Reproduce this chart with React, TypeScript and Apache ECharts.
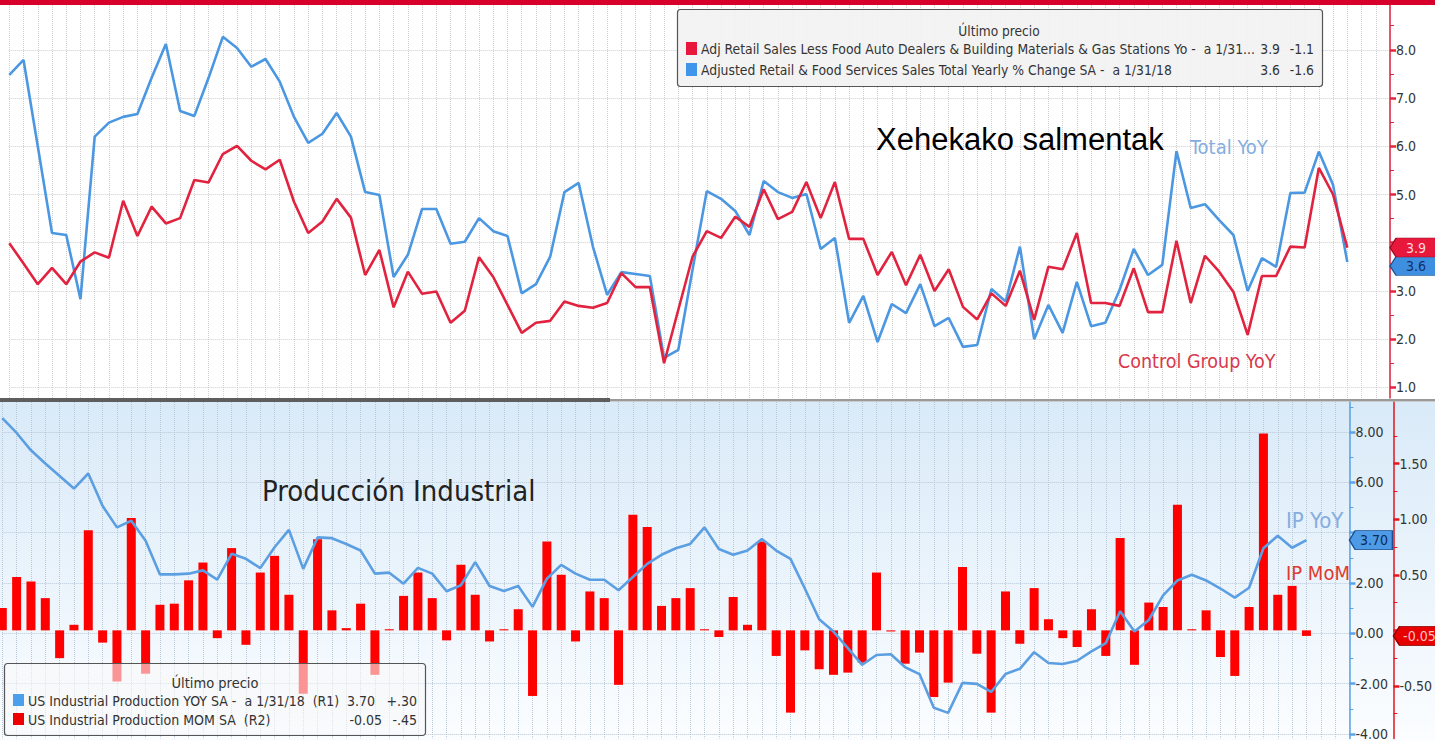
import React, { useEffect, useRef } from 'react';
import * as echarts from 'echarts';

const FONT = "'Liberation Sans Narrow', 'Arial Narrow', 'DejaVu Sans Condensed', sans-serif";
const MONTHS = ['Jan', 'Feb', 'Mar', 'Apr', 'May', 'Jun', 'Jul', 'Aug', 'Sep', 'Oct', 'Nov', 'Dec'];

function monthRange(startYear: number, startMonth: number, count: number): string[] {
  const out: string[] = [];
  for (let k = 0; k < count; k++) {
    const m = startMonth + k;
    out.push(MONTHS[m % 12] + ' ' + (startYear + Math.floor(m / 12)));
  }
  return out;
}

// Retail sales chart: data Mar 2010 – Jan 2018, axis runs to Apr 2018
const retailMonths = monthRange(2010, 2, 98);
// Industrial production chart: data Jun 2010 – Jan 2018, axis runs to Apr 2018
const ipMonths = monthRange(2010, 5, 95);

const NAME_CONTROL = 'Adj Retail Sales Less Food Auto Dealers & Building Materials & Gas Stations Yo';
const NAME_TOTAL = 'Adjusted Retail & Food Services Sales Total Yearly % Change SA';
const NAME_IP_YOY = 'US Industrial Production YOY SA';
const NAME_IP_MOM = 'US Industrial Production MOM SA';

const retailTotalYoY = [
  7.48, 7.79, 6.0, 4.2, 4.16, 2.83, 6.2, 6.49, 6.61, 6.67,
  7.42, 8.12, 6.73, 6.63, 7.42, 8.27, 8.04, 7.65, 7.81, 7.34,
  6.61, 6.07, 6.26, 6.69, 6.2, 5.05, 4.99, 3.29, 3.75, 4.7,
  4.7, 3.98, 4.02, 4.51, 4.24, 4.14, 2.95, 3.14, 3.71, 5.05,
  5.24, 3.92, 2.92, 3.39, 3.35, 3.31, 1.61, 1.78, 3.44, 5.07,
  4.91, 4.66, 4.16, 5.28, 5.05, 4.93, 5.01, 3.87, 4.1, 2.34,
  2.9, 1.94, 2.73, 2.54, 3.14, 2.27, 2.44, 1.84, 1.88, 3.04,
  2.78, 3.92, 2.0, 2.71, 2.13, 3.19, 2.27, 2.34, 3.02, 3.87,
  3.33, 3.54, 5.9, 4.72, 4.8, 4.47, 4.16, 3.0, 3.68, 3.5,
  5.03, 5.04, 5.89, 5.2, 3.6,
];

const retailControlYoY = [
  3.99, 3.57, 3.14, 3.48, 3.14, 3.61, 3.8, 3.69, 4.87, 4.14,
  4.75, 4.4, 4.51, 5.3, 5.25, 5.84, 6.01, 5.7, 5.52, 5.72,
  4.85, 4.2, 4.44, 4.91, 4.52, 3.33, 3.85, 2.66, 3.4, 2.94,
  2.99, 2.34, 2.59, 3.7, 3.29, 2.71, 2.13, 2.34, 2.38, 2.78,
  2.69, 2.65, 2.75, 3.37, 3.08, 3.08, 1.5, 2.61, 3.71, 4.24,
  4.1, 4.54, 4.33, 5.11, 4.49, 4.64, 5.26, 4.51, 5.26, 4.08,
  4.08, 3.33, 3.81, 3.12, 3.75, 3.0, 3.45, 2.67, 2.41, 2.95,
  2.69, 3.42, 2.4, 3.5, 3.45, 4.2, 2.75, 2.75, 2.69, 3.47,
  2.56, 2.56, 4.04, 2.75, 3.73, 3.4, 2.98, 2.09, 3.31, 3.31,
  3.92, 3.9, 5.55, 5.0, 3.9,
];

const ipMoM = [
  0.2, 0.48, 0.44, 0.29, -0.25, 0.05, 0.9, -0.11, -0.46, 1.01,
  -0.39, 0.23, 0.24, 0.45, 0.61, -0.07, 0.74, -0.13, 0.52, 0.67,
  0.32, -0.57, 0.82, 0.18, 0.02, 0.24, -0.4, 0.01, 0.31, 0.52,
  0.29, -0.09, 0.59, 0.32, -0.1, 0.01, 0.19, -0.59, 0.8, 0.5,
  -0.1, 0.35, 0.29, -0.49, 1.04, 0.93, 0.22, 0.29, 0.38, 0.01,
  -0.06, 0.3, 0.05, 0.8, -0.23, -0.74, -0.18, -0.35, -0.4, -0.38,
  -0.29, 0.52, -0.01, -0.3, -0.2, -0.6, -0.47, 0.57, -0.21, -0.74,
  0.35, -0.12, 0.38, 0.1, -0.07, -0.15, 0.19, -0.23, 0.83, -0.31,
  0.25, 0.21, 1.13, 0.01, 0.18, -0.24, -0.41, 0.21, 1.77, 0.32,
  0.4, -0.05,
];

const ipYoY = [
  8.55, 7.96, 7.27, 6.75, 6.25, 5.75, 6.35, 5.06, 4.21, 4.47,
  3.68, 2.34, 2.34, 2.37, 2.5, 2.13, 3.16, 2.96, 2.59, 3.42,
  4.11, 2.56, 3.81, 3.78, 3.55, 3.29, 2.37, 2.41, 1.97, 2.6,
  2.37, 1.67, 1.91, 2.83, 1.88, 1.68, 1.88, 1.05, 2.17, 2.72,
  2.37, 2.13, 2.13, 1.71, 2.24, 2.76, 3.12, 3.38, 3.55, 4.21,
  3.35, 3.12, 3.29, 3.75, 3.29, 2.96, 1.78, 0.56, 0.07, -0.59,
  -1.25, -0.86, -0.83, -1.35, -1.62, -2.96, -3.16, -1.97, -2.01, -2.33,
  -1.62, -1.41, -0.75, -1.18, -1.22, -1.09, -0.72, -0.39, 0.88, 0.07,
  0.53, 1.51, 2.1, 2.33, 2.1, 1.78, 1.42, 1.81, 3.38, 3.88,
  3.4, 3.7,
];

// Tick positions, and the tick labels that stay visible (the others sit under the last-value flags)
const retailTicks = [1, 2, 3, 4, 5, 6, 7, 8];
const retailTickLabels = [1, 2, 3, 5, 6, 7, 8];
const ipYoYTicks = [-4, -2, 0, 2, 4, 6, 8];
const ipYoYTickLabels = [-4, -2, 0, 2, 6, 8];
const ipMoMTicks = [-0.5, 0, 0.5, 1, 1.5];
const ipMoMTickLabels = [-0.5, 0.5, 1, 1.5];

const last = (a: number[]) => a[a.length - 1];
const change = (a: number[]) => a[a.length - 1] - a[a.length - 2];
const fmtSigned = (v: number, d: number) => (v >= 0 ? '' : '-') + Math.abs(v).toFixed(d);
const fmtShort = (v: number) => (v >= 0 ? '+' : '-') + Math.abs(v).toFixed(2).replace(/^0/, '');

const RED_TOP = '#e2233f';
const BLUE_TOP = '#4b97e2';
const BLUE_IP = '#5b9fe2';
const RED_IP = '#ff0000';
const FLAG = 'path://M0,10 L8,0 L60,0 L60,20 L8,20 Z';

function flag(coordX: string, value: number, fill: string, border: string, textColor: string, w: number, dx: number, dy: number, digits: number) {
  return {
    symbol: FLAG,
    symbolSize: [w, 19],
    symbolOffset: [dx + w / 2, dy],
    silent: true,
    itemStyle: { color: fill, borderColor: border, borderWidth: 1 },
    label: {
      show: true,
      position: 'inside',
      offset: [3, 0],
      color: textColor,
      fontFamily: FONT,
      fontSize: 14,
      formatter: (p: any) => Number(p.value).toFixed(digits),
    },
    data: [{ coord: [coordX, value], value }],
  };
}

function txt(x: number, y: number, text: string, fill: string, size: number, align: string = 'left', family: string = FONT) {
  return {
    type: 'text',
    x,
    y,
    z: 100,
    silent: true,
    style: { text, fill, font: `${size}px ${family}`, textAlign: align, textVerticalAlign: 'middle' },
  };
}

export default function App() {
  const ref = useRef<HTMLDivElement>(null);

  useEffect(() => {
    if (!ref.current) return;
    const chart = echarts.init(ref.current, undefined, { renderer: 'svg' });

    const dotted = (color: string) => ({ show: true, lineStyle: { type: 'dotted', color, width: 1 } });
    const isMultiple = (v: number, step: number) => Math.abs(v / step - Math.round(v / step)) < 1e-6;

    const option: any = {
      animation: false,
      backgroundColor: '#ffffff',
      textStyle: { fontFamily: FONT },
      grid: [
        { left: 9.3, top: 5, width: 1380.7, height: 393 },
        { left: 2.3, top: 402, width: 1352.7, height: 339 },
      ],
      xAxis: [
        {
          type: 'category', gridIndex: 0, data: retailMonths, boundaryGap: false,
          axisLine: { show: false }, axisTick: { show: false }, axisLabel: { show: false },
          splitLine: { ...dotted('#cfcfcf'), interval: 0 },
        },
        {
          type: 'category', gridIndex: 1, data: ipMonths, boundaryGap: false,
          axisLine: { show: false }, axisTick: { show: false }, axisLabel: { show: false },
          splitLine: { ...dotted('#b9c8d8'), interval: 0 },
        },
      ],
      yAxis: [
        {
          type: 'value', gridIndex: 0, position: 'right',
          min: 0.78, max: 8.93, minInterval: 1, maxInterval: 1, splitNumber: 8,
          axisLine: { show: true, lineStyle: { color: RED_TOP, width: 1.5 } },
          axisTick: { show: true, length: 6, lineStyle: { color: RED_TOP, width: 2.5 }, customValues: retailTicks },
          minorTick: { show: true, splitNumber: 2, length: 4, lineStyle: { color: RED_TOP, width: 1 } },
          axisLabel: {
            show: true, color: '#333', fontSize: 14, fontFamily: FONT, margin: 6, customValues: retailTickLabels,
            formatter: (v: number) => (isMultiple(v, 1) && retailTickLabels.includes(Math.round(v)) ? v.toFixed(1) : ''),
          },
          splitLine: dotted('#cfcfcf'),
        },
        {
          type: 'value', gridIndex: 1, position: 'right',
          min: -4.18, max: 9.19, minInterval: 2, maxInterval: 2, splitNumber: 7,
          axisLine: { show: true, lineStyle: { color: '#5aa3e6', width: 1.5 } },
          axisTick: { show: true, length: 6, lineStyle: { color: '#5aa3e6', width: 2.5 }, customValues: ipYoYTicks },
          minorTick: { show: true, splitNumber: 2, length: 4, lineStyle: { color: '#5aa3e6', width: 1 } },
          axisLabel: {
            show: true, color: '#333', fontSize: 14, fontFamily: FONT, margin: 6, customValues: ipYoYTickLabels,
            formatter: (v: number) => (isMultiple(v, 2) && ipYoYTickLabels.includes(Math.round(v)) ? v.toFixed(2) : ''),
          },
          splitLine: dotted('#b9c8d8'),
        },
        {
          type: 'value', gridIndex: 1, position: 'right', offset: 44,
          min: -0.973, max: 2.054, minInterval: 0.5, maxInterval: 0.5, splitNumber: 6,
          axisLine: { show: true, lineStyle: { color: '#e3141e', width: 1.5 } },
          axisTick: { show: true, length: 6, lineStyle: { color: '#e3141e', width: 2.5 }, customValues: ipMoMTicks },
          minorTick: { show: true, splitNumber: 2, length: 4, lineStyle: { color: '#e3141e', width: 1 } },
          axisLabel: {
            show: true, color: '#333', fontSize: 14, fontFamily: FONT, margin: 6, customValues: ipMoMTickLabels,
            formatter: (v: number) =>
              isMultiple(v, 0.5) && ipMoMTickLabels.some((t) => Math.abs(t - v) < 1e-6) ? v.toFixed(2) : '',
          },
          splitLine: { show: false },
        },
      ],
      series: [
        {
          name: NAME_TOTAL, type: 'line', xAxisIndex: 0, yAxisIndex: 0, data: retailTotalYoY,
          symbol: 'none', lineStyle: { color: BLUE_TOP, width: 2.6 }, itemStyle: { color: BLUE_TOP },
          markPoint: flag(last(retailMonths), last(retailTotalYoY), '#3f8fe0', '#1f4f8a', '#12306a', 46, 0, 4, 1),
        },
        {
          name: NAME_CONTROL, type: 'line', xAxisIndex: 0, yAxisIndex: 0, data: retailControlYoY,
          symbol: 'none', lineStyle: { color: RED_TOP, width: 2.6 }, itemStyle: { color: RED_TOP },
          markPoint: flag(last(retailMonths), last(retailControlYoY), '#e8183c', '#9a0f24', '#ffd7de', 46, 0, 0, 1),
        },
        {
          name: NAME_IP_MOM, type: 'bar', xAxisIndex: 1, yAxisIndex: 2, data: ipMoM,
          barWidth: 9, itemStyle: { color: RED_IP },
          markPoint: flag(last(ipMonths), last(ipMoM), '#e60000', '#8a0000', '#ffc4c4', 46, 44, 0, 2),
        },
        {
          name: NAME_IP_YOY, type: 'line', xAxisIndex: 1, yAxisIndex: 1, data: ipYoY,
          symbol: 'none', lineStyle: { color: BLUE_IP, width: 2.6 }, itemStyle: { color: BLUE_IP },
          markPoint: flag(last(ipMonths), last(ipYoY), '#4d9be6', '#1d4f8f', '#0d2a55', 43, 0, 0, 2),
        },
      ],
      graphic: [
        // panel decorations
        { type: 'rect', z: -10, silent: true, shape: { x: 0, y: 402, width: 1435, height: 339 },
          style: { fill: new echarts.graphic.LinearGradient(0, 0, 0, 1, [
            { offset: 0, color: '#d9eaf8' }, { offset: 1, color: '#fbfdff' }]) } },
        { type: 'rect', z: 100, silent: true, shape: { x: 0, y: 0, width: 1435, height: 5 }, style: { fill: '#d7002a' } },
        { type: 'rect', z: 100, silent: true, shape: { x: 0, y: 398, width: 610, height: 4 }, style: { fill: '#5e5e5e' } },
        { type: 'rect', z: 100, silent: true, shape: { x: 610, y: 399, width: 825, height: 2.5 }, style: { fill: '#9a9a9a' } },

        // top legend
        { type: 'rect', z: 100, silent: true, shape: { x: 677.5, y: 9.5, width: 645, height: 77, r: 3 },
          style: { fill: 'rgba(242,242,242,0.9)', stroke: '#555', lineWidth: 1.2 } },
        txt(999, 31, 'Último precio', '#333', 13.6, 'center'),
        { type: 'rect', z: 101, silent: true, shape: { x: 686, y: 42, width: 11, height: 13 }, style: { fill: '#e8183c' } },
        txt(701, 49, NAME_CONTROL + ' -  a 1/31...', '#333', 13.8),
        txt(1280, 49, last(retailControlYoY).toFixed(1), '#333', 13.8, 'right'),
        txt(1314, 49, fmtSigned(change(retailControlYoY), 1), '#333', 13.8, 'right'),
        { type: 'rect', z: 101, silent: true, shape: { x: 686, y: 63, width: 11, height: 13 }, style: { fill: '#3f95ea' } },
        txt(701, 70, NAME_TOTAL + ' -  a 1/31/18', '#333', 13.8),
        txt(1280, 70, last(retailTotalYoY).toFixed(1), '#333', 13.8, 'right'),
        txt(1314, 70, fmtSigned(change(retailTotalYoY), 1), '#333', 13.8, 'right'),

        // top annotations
        txt(876, 139, 'Xehekako salmentak', '#000', 31, 'left', "'Liberation Sans', Arial, sans-serif"),
        txt(1190, 147, 'Total YoY', '#86ade0', 20),
        txt(1118, 361, 'Control Group YoY', '#d8394c', 19.5),

        // bottom annotations
        txt(262, 491, 'Producción Industrial', '#222', 29),
        txt(1286, 520, 'IP YoY', '#86ade0', 22),
        txt(1286, 573, 'IP MoM', '#e0392f', 20),

        // bottom legend
        { type: 'rect', z: 100, silent: true, shape: { x: 4.5, y: 663.5, width: 421, height: 72, r: 3 },
          style: { fill: 'rgba(248,248,248,0.6)', stroke: '#555', lineWidth: 1.2 } },
        txt(215, 683, 'Último precio', '#333', 14.5, 'center'),
        { type: 'rect', z: 101, silent: true, shape: { x: 13, y: 694, width: 11, height: 12 }, style: { fill: '#4aa0ea' } },
        txt(28, 701, NAME_IP_YOY + ' -  a 1/31/18  (R1)', '#333', 14),
        txt(375, 701, last(ipYoY).toFixed(2), '#333', 14, 'right'),
        txt(417, 701, fmtShort(change(ipYoY)), '#333', 14, 'right'),
        { type: 'rect', z: 101, silent: true, shape: { x: 13, y: 713, width: 11, height: 12 }, style: { fill: '#ee0000' } },
        txt(28, 720, NAME_IP_MOM + '  (R2)', '#333', 14),
        txt(382, 720, last(ipMoM).toFixed(2), '#333', 14, 'right'),
        txt(417, 720, fmtShort(change(ipMoM)), '#333', 14, 'right'),
      ],
    };

    chart.setOption(option);
    return () => chart.dispose();
  }, []);

  return <div ref={ref} style={{ position: 'fixed', left: 0, top: 0, width: 1435, height: 741 }} />;
}
